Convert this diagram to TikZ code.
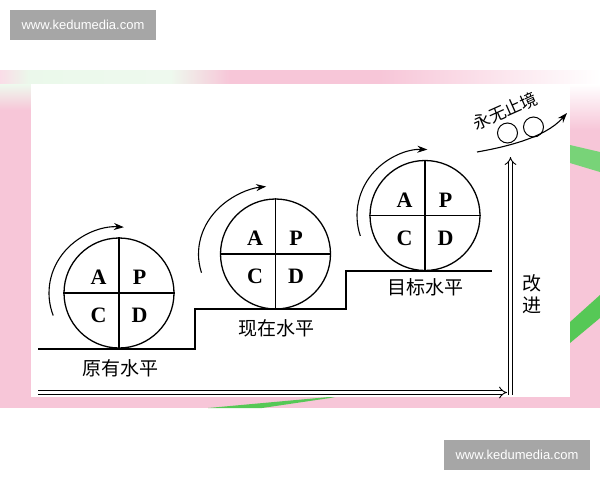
\documentclass[tikz,border=0pt]{standalone}
\usepackage{fontspec}
\setmainfont{Liberation Serif}
\newfontfamily\cjk{Noto Sans CJK SC}
\newfontfamily\wmfont{Liberation Sans}
\usetikzlibrary{positioning,arrows.meta}
\definecolor{bgpink}{RGB}{247,198,216}
\definecolor{bggreen}{RGB}{86,200,86}
\definecolor{markgray}{RGB}{166,166,166}

\begin{document}
\begin{tikzpicture}[x=1pt,y=-1pt,
pdca/.style={circle, draw=black, line width=1.3pt, minimum size=110pt, inner sep=0pt},
ball/.style={circle, draw=black, line width=1pt, minimum size=20pt, inner sep=0pt},
letter/.style={font=\fontsize{22}{22}\selectfont\bfseries, inner sep=0pt},
level_text/.style={font=\cjk\fontsize{19}{19}\selectfont, inner sep=0pt},
stair/.style={line width=1.3pt},
turn/.style={line width=1.1pt, -{Stealth[length=10pt,width=7pt]}},
rise/.style={line width=0.9pt, double, double distance=3.2pt, -{Implies[length=5pt]}},
watermark/.style={fill=markgray, text=white, font=\wmfont\fontsize{13}{13}\selectfont, minimum width=146pt, minimum height=30pt}
]
\useasboundingbox (0,0) rectangle (600,480);

% background
\fill[bgpink] (0,70) rectangle (600,408);
\shade[left color=bgpink!60!white, right color=bggreen!12!white] (0,70) rectangle (30,84);
\shade[left color=bggreen!12!white, right color=bggreen!10!white] (30,70) rectangle (170,84);
\shade[left color=bggreen!10!white, right color=bgpink] (170,70) rectangle (230,84);
\shade[left color=bgpink, right color=white] (380,70) rectangle (600,84);
\shade[top color=bggreen!10!white, bottom color=bgpink] (0,84) rectangle (31,110);
\shade[top color=white, bottom color=bgpink] (570,84) rectangle (600,130);
\fill[bggreen!80] (570,145) -- (600,152) -- (600,172) -- (570,163) -- cycle;
\fill[bggreen] (570,322) -- (600,295) -- (600,318) -- (570,343) -- cycle;
\fill[bggreen] (208,408) -- (340,396) -- (330,398) -- (262,408) -- cycle;
\fill[white] (31,84) rectangle (570,397);

% steps
\draw[stair] (38,349) -- (195,349) -- (195,309) -- (346,309) -- (346,271) -- (492,271);

\node[pdca] (circle_old) at (119,293) {};
\node[pdca] (circle_now) at (275.5,254) {};
\node[pdca] (circle_goal) at (425,215.5) {};

\draw[stair] (circle_old.north) -- (circle_old.south);
\draw[stair] (circle_old.west) -- (circle_old.east);
\draw[stair] (circle_now.north) -- (circle_now.south);
\draw[stair] (circle_now.west) -- (circle_now.east);
\draw[stair] (circle_goal.north) -- (circle_goal.south);
\draw[stair] (circle_goal.west) -- (circle_goal.east);

\node[letter] (old_a) at ([shift={(-20.5,-15.5)}]circle_old.center) {A};
\node[letter] (old_p) at ([shift={(20.5,-15.5)}]circle_old.center) {P};
\node[letter] (old_c) at ([shift={(-20.5,22.5)}]circle_old.center) {C};
\node[letter] (old_d) at ([shift={(20.5,22.5)}]circle_old.center) {D};
\node[letter] (now_a) at ([shift={(-20.5,-15.5)}]circle_now.center) {A};
\node[letter] (now_p) at ([shift={(20.5,-15.5)}]circle_now.center) {P};
\node[letter] (now_c) at ([shift={(-20.5,22.5)}]circle_now.center) {C};
\node[letter] (now_d) at ([shift={(20.5,22.5)}]circle_now.center) {D};
\node[letter] (goal_a) at ([shift={(-20.5,-15.5)}]circle_goal.center) {A};
\node[letter] (goal_p) at ([shift={(20.5,-15.5)}]circle_goal.center) {P};
\node[letter] (goal_c) at ([shift={(-20.5,22.5)}]circle_goal.center) {C};
\node[letter] (goal_d) at ([shift={(20.5,22.5)}]circle_goal.center) {D};

\draw[turn] ([shift={(200:70pt and 66pt)}]circle_old.center) arc[start angle=200, end angle=86, x radius=70pt, y radius=66pt];
\draw[turn] ([shift={(196:77pt and 68pt)}]circle_now.center) arc[start angle=196, end angle=97, x radius=77pt, y radius=68pt];
\draw[turn] ([shift={(198:68pt and 66pt)}]circle_goal.center) arc[start angle=198, end angle=88, x radius=68pt, y radius=66pt];

\node[level_text] (label_old) at (120,368) {原有水平};
\node[level_text] (label_now) at (276,328) {现在水平};
\node[level_text] (label_goal) at (425,287) {目标水平};

% axes
\coordinate (origin) at (38,392.5);
\coordinate (x_end) at (507,392.5);
\coordinate (y_start) at (510.5,395);
\coordinate (y_end) at (510.5,157);
\draw[rise] (origin) -- (x_end);
\draw[rise] (y_start) -- (y_end);

\node[level_text] (gai) at (532,283) {改};
\node[level_text] (jin) [below=5pt of gai] {进};

% never ending
\coordinate (wave_start) at (477,152);
\coordinate (wave_end) at (567,113);
\draw[turn] (wave_start) .. controls (505,147) and (545,138) .. (wave_end);
\node[ball] (ball_a) at (507.5,133) {};
\node[ball] (ball_b) at (533.5,127) {};
\node[level_text, font=\cjk\fontsize{17}{17}\selectfont, rotate=24] (endless) at (505,111) {永无止境};

\node[watermark] (mark_top) at (83,25) {www.kedumedia.com};
\node[watermark] (mark_bottom) at (517,455) {www.kedumedia.com};
\end{tikzpicture}
\end{document}
